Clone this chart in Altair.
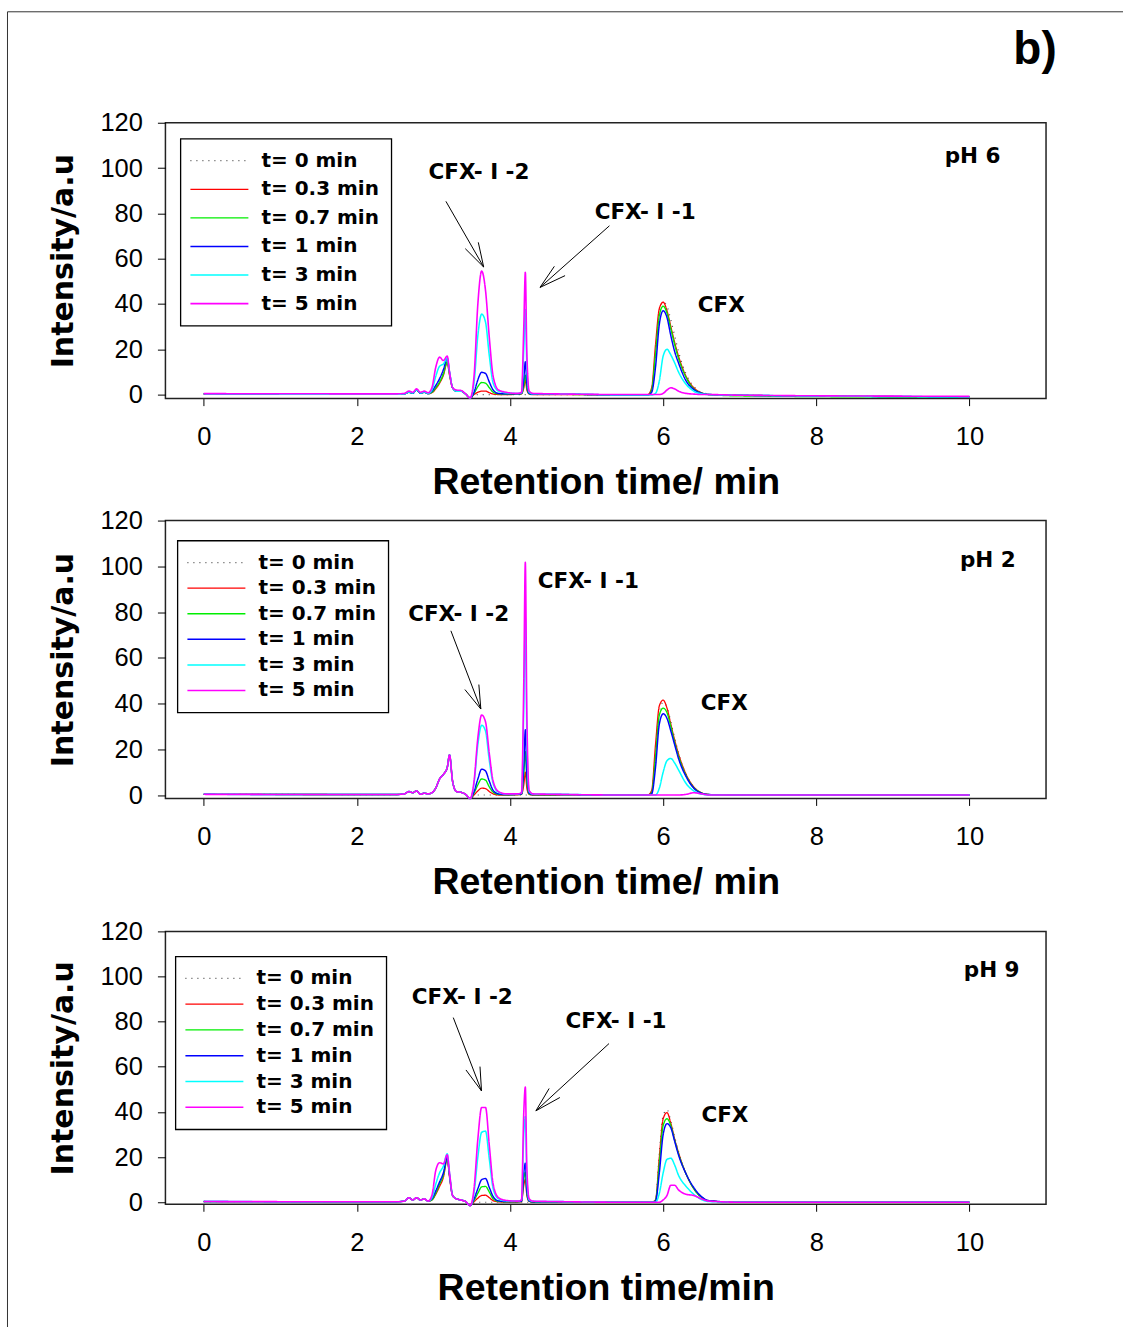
import altair as alt
import pandas as pd

# ---------------- shared x grid (retention time, min) ----------------
X = [0.0, 2.5, 2.62, 2.68, 2.73, 2.78, 2.83, 2.88, 2.93,
     2.98, 3.03, 3.08, 3.13, 3.18, 3.21, 3.25, 3.3, 3.36, 3.42,
     3.48, 3.53, 3.58, 3.63, 3.68, 3.73, 3.78, 3.85, 3.95,
     4.1, 4.15, 4.18, 4.2, 4.22, 4.25, 4.3, 4.6,
     5.5, 5.8, 5.85, 5.9, 5.95, 6.0, 6.05, 6.1, 6.15, 6.2, 6.3, 6.4, 6.5, 6.6, 7.0, 10.0]

LABELS = ["t= 0 min", "t= 0.3 min", "t= 0.7 min", "t= 1 min", "t= 3 min", "t= 5 min"]
COLORS = ["#4d4d4d", "#ff0000", "#00ee00", "#0000ff", "#00ffff", "#ff00ff"]
DASHES = [[1, 5], [1, 0], [1, 0], [1, 0], [1, 0], [1, 0]]
WIDTHS = [1.2, 1.6, 1.6, 1.6, 1.6, 1.6]

# ---------------- pH 6 (top) ----------------
PH6_T0 = [0.3, 0.1, 0.3, 1.0, 0.6, 2.0, 0.6, 1.0, 0.4,
          1.0, 3.0, 6.0, 9.5, 15.0, 9.0, 3.0, 1.5, 1.5, 0.2,
          -1.5, -0.5, 0, 0, 0, 0, 0, 0, 0,
          0, 0, 0, 0, 0, 0, 0, 0,
          -0.2, -0.2, 2, 18, 36, 41, 39, 33, 26, 19, 9, 3.5, 1, 0.2, -0.3, -1.0]
PH6_T03 = [0.3, 0.1, 0.3, 1.0, 0.6, 2.0, 0.6, 1.0, 0.4,
           0.8, 2.5, 5.0, 8.5, 14.0, 8.5, 3.0, 1.5, 1.5, 0.2,
           -1.5, 0, 1.0, 1.5, 1.5, 0.8, 0.2, 0, 0,
           0.1, 0.3, 3, 6.5, 2, 0.3, 0, 0,
           -0.2, 0, 3, 22, 38, 40.8, 37, 30, 23, 17, 8, 3, 0.8, 0, -0.3, -1.0]
PH6_T07 = [0.3, 0.1, 0.3, 1.0, 0.6, 2.0, 0.6, 1.0, 0.4,
           1.0, 3.0, 5.5, 9.0, 14.5, 9.0, 3.0, 1.5, 1.5, 0.2,
           -1.5, 0.5, 3.5, 5.3, 5.0, 3.0, 1.0, 0.3, 0.2,
           0.2, 0.4, 4, 8.5, 3, 0.4, 0.1, 0.1,
           -0.3, -0.3, 2, 18, 35, 39, 36, 29, 22, 16, 7.5, 2.5, 0.7, 0, -0.6, -1.2]
PH6_T1 = [0.3, 0.1, 0.3, 1.0, 0.6, 2.0, 0.6, 1.0, 0.4,
          1.5, 4.0, 7.0, 11.0, 16.0, 10.0, 3.0, 1.5, 1.5, 0.2,
          -1.5, 1.0, 6.5, 9.8, 9.3, 5.5, 2.0, 0.5, 0.3,
          0.3, 0.5, 7, 14.5, 5, 0.5, 0.2, 0.2,
          -0.2, -0.2, 1, 12, 31, 37, 34, 26, 19, 14, 6, 2.2, 0.6, 0, -0.3, -1.0]
PH6_T3 = [0.3, 0.1, 0.3, 1.1, 0.7, 2.1, 0.7, 1.1, 0.5,
          2.0, 8.0, 12.5, 13.5, 16.0, 10.0, 3.0, 1.5, 1.5, 0.2,
          -1.5, 5, 26, 35.5, 32, 17, 5, 1.5, 0.8,
          0.5, 0.8, 20, 37.5, 12, 1, 0.3, 0.3,
          -0.2, -0.2, -0.2, 0.5, 6, 17, 20, 17.5, 14, 10, 4.5, 1.5, 0.3, 0, -0.3, -1.0]
PH6_T5 = [0.4, 0.3, 0.5, 1.5, 1.0, 2.5, 1.0, 1.5, 0.8,
          3.0, 12.0, 16.5, 15.0, 17.0, 10.0, 3.0, 2.0, 1.8, 0.3,
          -1.5, 8, 40, 54.5, 46, 25, 8, 2, 1,
          0.5, 1, 30, 54, 18, 1.5, 0.5, 0.3,
          0, 0, 0, 0, 0, 0.5, 2, 3, 2.5, 1.5, 0.5, 0.2, 0, 0, -0.3, -0.8]

# ---------------- pH 2 (middle) ----------------
PH2_T0 = [0.3, 0.2, 0.5, 1.5, 1.0, 1.8, 0.3, 0.8, 0.5,
          1.0, 3.0, 7.0, 9.0, 12.0, 17.5, 6.0, 1.5, 1.2, 0.3,
          -1.5, -0.5, 0, 0, 0, 0, 0, 0, 0,
          0, 0, 0, 0, 0, 0, 0, 0,
          0, 0, 1.5, 18, 36, 40.5, 38.5, 32, 25, 18.5, 9, 3.5, 1, 0.2, 0, 0]
PH2_T03 = [0.3, 0.2, 0.5, 1.5, 1.0, 1.8, 0.3, 0.8, 0.5,
           1.0, 3.0, 7.0, 9.0, 12.0, 17.5, 6.0, 1.5, 1.2, 0.3,
           -1.5, 0, 1.8, 3, 2.8, 1.5, 0.5, 0, 0,
           0.1, 0.3, 4.5, 10, 3, 0.3, 0, 0,
           0, 0, 2, 22, 39, 41.5, 38, 31, 24, 18, 9, 3.5, 1, 0.2, 0, 0]
PH2_T07 = [0.3, 0.2, 0.5, 1.5, 1.0, 1.8, 0.3, 0.8, 0.5,
           1.0, 3.0, 7.0, 9.0, 12.0, 17.5, 6.0, 1.5, 1.2, 0.3,
           -1.5, 0.8, 4.5, 7, 6.5, 3.5, 1.2, 0.3, 0.1,
           0.2, 0.4, 9, 19, 6, 0.5, 0.1, 0.1,
           0, 0, 1, 17, 35, 38, 36, 30, 23, 17, 8.5, 3.2, 0.9, 0.2, 0, 0]
PH2_T1 = [0.3, 0.2, 0.5, 1.5, 1.0, 1.8, 0.3, 0.8, 0.5,
          1.0, 3.0, 7.0, 9.0, 12.0, 17.5, 6.0, 1.5, 1.2, 0.3,
          -1.5, 1.5, 7, 11.3, 10.5, 6, 2, 0.5, 0.2,
          0.3, 0.5, 13, 28.5, 9, 0.8, 0.2, 0.2,
          0, 0, 0.5, 12, 31, 35.5, 33.5, 28, 22, 16, 8, 3, 0.8, 0.2, 0, 0]
PH2_T3 = [0.3, 0.2, 0.5, 1.5, 1.0, 1.8, 0.3, 0.8, 0.5,
          1.0, 3.0, 7.0, 9.0, 12.0, 17.5, 6.0, 1.5, 1.2, 0.3,
          -1.5, 5, 22, 30.5, 28, 15, 5, 1.2, 0.4,
          0.5, 1, 38, 77.5, 25, 1.5, 0.4, 0.3,
          0, 0, 0, 0, 3, 10, 15, 16, 14, 11, 5, 1.8, 0.4, 0, 0, 0]
PH2_T5 = [0.3, 0.2, 0.5, 1.5, 1.0, 1.8, 0.3, 0.8, 0.5,
          1.0, 3.0, 7.0, 9.0, 12.0, 17.5, 6.0, 1.5, 1.2, 0.3,
          -1.5, 6, 25, 35, 32, 18, 6, 1.5, 0.5,
          0.5, 1, 50, 101.7, 35, 2, 0.5, 0.3,
          0, 0, 0, 0, 0, 0, 0, 0, 0, 0, 0.3, 1, 0.5, 0, 0, 0]

# ---------------- pH 9 (bottom) ----------------
PH9_T0 = [0.3, 0.2, 0.5, 2.0, 1.0, 2.0, 1.0, 1.5, 0.5,
          1, 4, 8, 12, 20, 12, 3, 1.5, 1, 0.3,
          -1.5, -0.5, 0, 0, 0, 0, 0, 0, 0,
          0, 0, 0, 0, 0, 0, 0, 0,
          0, 0, 0, 1.5, 22, 38.5, 41, 36, 29, 22.5, 12.5, 6, 2.2, 0.6, 0, 0]
PH9_T03 = [0.3, 0.2, 0.5, 2.0, 1.0, 2.0, 1.0, 1.5, 0.5,
           1, 3.5, 7, 11, 19, 11, 3, 1.5, 1, 0.3,
           -1.5, 0.2, 1.8, 3, 3.1, 2, 0.7, 0.2, 0,
           0.1, 0.3, 7.5, 10.2, 3, 0.4, 0, 0,
           0, 0, 0, 1, 20, 37, 39.7, 35, 28, 22, 12.5, 6, 2.2, 0.6, 0, 0]
PH9_T07 = [0.3, 0.2, 0.5, 2.0, 1.0, 2.0, 1.0, 1.5, 0.5,
           1, 4, 8, 12, 19.5, 12, 3, 1.5, 1, 0.3,
           -1.5, 0.8, 4, 6.8, 7, 4.5, 1.5, 0.4, 0.2,
           0.2, 0.4, 10, 13.3, 4, 0.5, 0.1, 0.1,
           0, 0, 0, 0.8, 17, 34, 37, 34, 27.5, 21.5, 12.5, 6, 2.2, 0.6, 0, 0]
PH9_T1 = [0.3, 0.2, 0.5, 2.0, 1.0, 2.0, 1.0, 1.5, 0.5,
          1.5, 5, 9, 13, 20, 12, 3, 1.5, 1, 0.3,
          -1.5, 1.5, 6, 10, 10.5, 6.5, 2.5, 0.6, 0.3,
          0.3, 0.5, 13, 17.3, 5, 0.6, 0.2, 0.2,
          0, 0, 0, 0.5, 13, 30, 34.8, 33, 27, 21, 12.5, 6.5, 2.5, 0.7, 0, 0]
PH9_T3 = [0.3, 0.2, 0.5, 2.0, 1.0, 2.0, 1.0, 1.5, 0.5,
          2, 8, 13, 16, 21.5, 13, 3, 1.5, 1, 0.3,
          -1.5, 4, 20, 31, 31.5, 19, 6, 1.5, 0.6,
          0.5, 1, 30, 38, 11, 1, 0.4, 0.3,
          0, 0, 0, 0, 4, 13, 19, 19.5, 16.5, 12, 7, 3.5, 1.2, 0.3, 0, 0]
PH9_T5 = [0.3, 0.2, 0.5, 2.0, 1.0, 2.0, 1.0, 1.5, 0.5,
          3, 14, 17.5, 17, 21, 13, 3, 1.5, 1, 0.3,
          -1.5, 6, 28, 42, 42, 25, 8, 2, 0.8,
          0.5, 1, 40, 51, 15, 1.5, 0.5, 0.3,
          0, 0, 0, 0, 0, 1, 3, 7.5, 7.5, 5.5, 3.5, 3, 1.5, 0.5, 0, 0]

# ---------------- annotations (data coordinates) ----------------
TOP_TEXT = ["CFX- I -2", "CFX- I -1", "CFX", "pH 6"]
TOP_TX = [3.595, 5.765, 6.758, 10.04]
TOP_TY = [97.9, 80.3, 39.3, 105.0]
TOP_AR_T = [3.163, 3.656, 3.656, 5.298, 4.392, 4.392]
TOP_AR_V = [85.3, 56.3, 56.3, 74.5, 47.3, 47.3]
TOP_AR_T2 = [3.656, 3.416, 3.586, 4.392, 4.579, 4.719]
TOP_AR_V2 = [56.3, 64.4, 67.2, 47.3, 56.6, 52.5]

MID_TEXT = ["CFX- I -2", "CFX- I -1", "CFX", "pH 2"]
MID_TX = [3.329, 5.023, 6.797, 10.24]
MID_TY = [78.8, 93.2, 40.0, 102.4]
MID_AR_T = [3.228, 3.619, 3.619]
MID_AR_V = [71.8, 37.6, 37.6]
MID_AR_T2 = [3.619, 3.411, 3.593]
MID_AR_V2 = [37.6, 46.1, 48.3]

BOT_TEXT = ["CFX- I -2", "CFX- I -1", "CFX", "pH 9"]
BOT_TX = [3.377, 5.385, 6.806, 10.29]
BOT_TY = [90.3, 79.7, 38.1, 102.3]
BOT_AR_T = [3.259, 3.628, 3.628, 5.293, 4.338, 4.338]
BOT_AR_V = [81.8, 49.3, 49.3, 70.3, 40.5, 40.5]
BOT_AR_T2 = [3.628, 3.425, 3.608, 4.338, 4.511, 4.651]
BOT_AR_V2 = [49.3, 58.6, 60.1, 40.5, 50.4, 46.4]

W = 881
XT_VALUES = [0, 2, 4, 6, 8, 10]
YT_VALUES = [0, 20, 40, 60, 80, 100, 120]


def panel(series, texts, tx, ty, at, av, at2, av2, xtitle, height, ymin,
          leg_x, leg_y, row_pad, extra_layers=()):
    rows = []
    for lab, ys in zip(LABELS, series):
        assert len(ys) == len(X), (lab, len(ys))
        for x, y in zip(X, ys):
            rows.append({"t": x, "v": y, "s": lab})
    df = pd.DataFrame(rows)

    xs = alt.Scale(domain=[-0.5, 11], nice=False, zero=False)
    ysc = alt.Scale(domain=[ymin, 120], nice=False, zero=False)

    leg = alt.Legend(
        title=None, orient="none", legendX=leg_x, legendY=leg_y,
        strokeColor="black", fillColor="white", padding=12,
        symbolType="M-5,0H5", symbolSize=134.56, symbolStrokeWidth=1.5,
        symbolOffset=17, labelOffset=32,
        labelFont="DejaVu Sans", labelFontSize=20, labelFontWeight="bold",
        labelColor="black", rowPadding=row_pad, direction="vertical",
    )

    lines = alt.Chart(df).mark_line(interpolate="monotone").encode(
        x=alt.X("t:Q", scale=xs, axis=alt.Axis(
            values=XT_VALUES, format="d", title=xtitle, titleFont="Liberation Sans",
            titleFontSize=37.5, titleFontWeight="bold", titleColor="black",
            titleY=95, titleBaseline="alphabetic",
            labelFont="Liberation Sans", labelFontSize=25.5, labelColor="black",
            labelPadding=19, tickSize=7, tickColor="black", tickWidth=1,
            domain=False, grid=False, labelOverlap=False, labelFlush=False)),
        y=alt.Y("v:Q", scale=ysc, axis=alt.Axis(
            values=YT_VALUES, format="d", title="Intensity/a.u", titleFont="DejaVu Sans",
            titleFontSize=30, titleFontWeight="bold", titleColor="black",
            titleX=-93, titleBaseline="alphabetic",
            labelFont="Liberation Sans", labelFontSize=25.5, labelColor="black",
            labelPadding=15, tickSize=8, tickColor="black", tickWidth=1,
            domain=False, grid=False, labelOverlap=False, labelFlush=False)),
        color=alt.Color("s:N", sort=LABELS,
                        scale=alt.Scale(domain=LABELS, range=COLORS), legend=leg),
        strokeDash=alt.StrokeDash("s:N", sort=LABELS,
                                  scale=alt.Scale(domain=LABELS, range=DASHES), legend=leg),
        strokeWidth=alt.StrokeWidth("s:N", sort=LABELS,
                                    scale=alt.Scale(domain=LABELS, range=WIDTHS), legend=None),
    )

    tdf = pd.DataFrame({"t": tx, "v": ty, "lab": texts})
    txt = alt.Chart(tdf).mark_text(
        font="DejaVu Sans", fontWeight="bold", fontSize=21.5, color="black",
        align="center", baseline="middle"
    ).encode(x=alt.X("t:Q", scale=xs), y=alt.Y("v:Q", scale=ysc), text="lab:N")

    adf = pd.DataFrame({"t": at, "v": av, "t2": at2, "v2": av2})
    arr = alt.Chart(adf).mark_rule(color="black", strokeWidth=1).encode(
        x=alt.X("t:Q", scale=xs), y=alt.Y("v:Q", scale=ysc), x2="t2:Q", y2="v2:Q")

    return alt.layer(lines, arr, txt, *extra_layers).properties(width=W, height=height)


one = pd.DataFrame({"a": [0]})
border_v = alt.Chart(one).mark_rule(color="#333333", strokeWidth=1).encode(
    x=alt.value(-158), y=alt.value(-111), y2=alt.value(1205))
border_h = alt.Chart(one).mark_rule(color="#333333", strokeWidth=1).encode(
    x=alt.value(-158), x2=alt.value(958), y=alt.value(-111))
blabel = alt.Chart(one).mark_text(
    text="b)", font="Liberation Sans", fontWeight="bold", fontSize=46,
    color="black", align="center", baseline="alphabetic"
).encode(x=alt.value(870), y=alt.value(-59))

top = panel([PH6_T0, PH6_T03, PH6_T07, PH6_T1, PH6_T3, PH6_T5],
            TOP_TEXT, TOP_TX, TOP_TY, TOP_AR_T, TOP_AR_V, TOP_AR_T2, TOP_AR_V2,
            "Retention time/ min", 276, -1.8, 15, 16, 8.6,
            extra_layers=(border_v, border_h, blabel))
mid = panel([PH2_T0, PH2_T03, PH2_T07, PH2_T1, PH2_T3, PH2_T5],
            MID_TEXT, MID_TX, MID_TY, MID_AR_T, MID_AR_V, MID_AR_T2, MID_AR_V2,
            "Retention time/ min", 278, -1.5, 12, 20, 5.6)
bot = panel([PH9_T0, PH9_T03, PH9_T07, PH9_T1, PH9_T3, PH9_T5],
            BOT_TEXT, BOT_TX, BOT_TY, BOT_AR_T, BOT_AR_V, BOT_AR_T2, BOT_AR_V2,
            "Retention time/min", 273, -0.9, 10, 25, 5.8)

inner = alt.vconcat(mid, bot, spacing=133, bounds="flush").resolve_scale(
    color="independent", strokeDash="independent", strokeWidth="independent")

chart = alt.vconcat(top, inner, spacing=122, bounds="flush").resolve_scale(
    color="independent", strokeDash="independent", strokeWidth="independent"
).properties(
    padding={"left": 5.5, "top": 9.5, "right": 0, "bottom": 0},
    background="white",
).configure_view(
    stroke="#222222", strokeWidth=1.5
).configure_legend(
    strokeWidth=1.3
)

chart.save("out.html", embed_options={"renderer": "svg", "actions": False})
